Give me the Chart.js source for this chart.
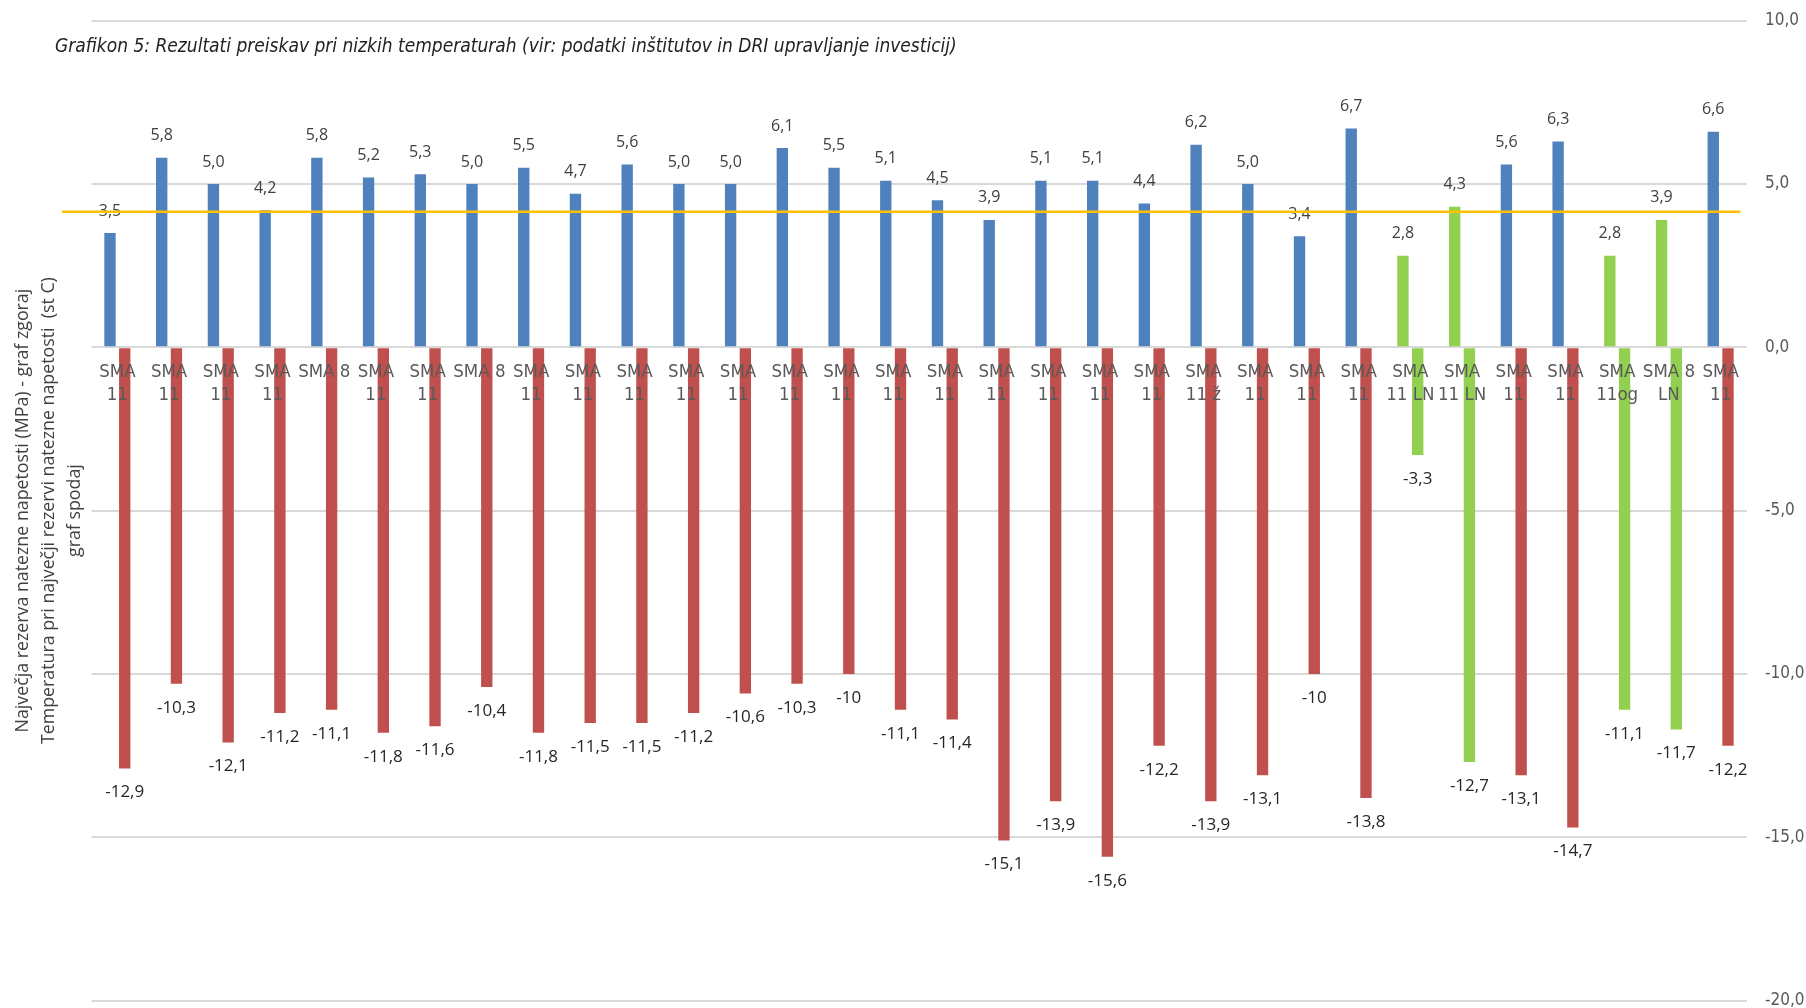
<!DOCTYPE html>
<html>
<head>
<meta charset="utf-8">
<script src="https://cdn.jsdelivr.net/npm/chart.js@4.4.1/dist/chart.umd.min.js"></script>
<style>
  html, body { margin: 0; padding: 0; background: #fff; }
  canvas { display: block; }
</style>
</head>
<body>
<canvas id="myChart" width="1806" height="1008"></canvas>
<script>
// categories (x axis labels, wrapped like in the original)
const categories = [
    ['SMA', '11'], ['SMA', '11'], ['SMA', '11'], ['SMA', '11'], 'SMA 8',
    ['SMA', '11'], ['SMA', '11'], 'SMA 8', ['SMA', '11'], ['SMA', '11'],
    ['SMA', '11'], ['SMA', '11'], ['SMA', '11'], ['SMA', '11'], ['SMA', '11'],
    ['SMA', '11'], ['SMA', '11'], ['SMA', '11'], ['SMA', '11'], ['SMA', '11'],
    ['SMA', '11'], ['SMA', '11 ž'], ['SMA', '11'], ['SMA', '11'], ['SMA', '11'],
    ['SMA', '11 LN'], ['SMA', '11 LN'], ['SMA', '11'], ['SMA', '11'], ['SMA', '11og'],
    ['SMA 8', 'LN'], ['SMA', '11']
];

// največja rezerva natezne napetosti (MPa) - graf zgoraj
const reserveValues = [
    3.5, 5.8, 5.0, 4.2, 5.8, 5.2, 5.3, 5.0, 5.5, 4.7,
    5.6, 5.0, 5.0, 6.1, 5.5, 5.1, 4.5, 3.9, 5.1, 5.1,
    4.4, 6.2, 5.0, 3.4, 6.7, 2.8, 4.3, 5.6, 6.3, 2.8,
    3.9, 6.6
];

// temperatura pri največji rezervi (st C) - graf spodaj
const tempValues = [
    -12.9, -10.3, -12.1, -11.2, -11.1, -11.8, -11.6, -10.4, -11.8, -11.5,
    -11.5, -11.2, -10.6, -10.3, -10, -11.1, -11.4, -15.1, -13.9, -15.6,
    -12.2, -13.9, -13.1, -10, -13.8, -3.3, -12.7, -13.1, -14.7, -11.1,
    -11.7, -12.2
];

// LN / og mixes drawn in green
const greenCats = [25, 26, 29, 30];

// right axis ticks and the yellow limit line
const yTicks = [-20, -15, -10, -5, 0, 5, 10];
const limitValue = 4.15;

const titleText = 'Grafikon 5: Rezultati preiskav pri nizkih temperaturah (vir: podatki inštitutov in DRI upravljanje investicij)';
const axisTitle = [
    'Največja rezerva natezne napetosti (MPa) - graf zgoraj',
    'Temperatura pri največji rezervi natezne napetosti  (st C)',
    'graf spodaj'
];

const narrowFont = '"DejaVu Sans Condensed", "DejaVu Sans", sans-serif';
const sansFont = '"Open Sans", "Noto Sans", sans-serif';

const blueColors = reserveValues.map((v, i) => greenCats.includes(i) ? '#92D050' : '#4F81BD');
const redColors = tempValues.map((v, i) => greenCats.includes(i) ? '#92D050' : '#C0504D');

const comma = s => String(s).replace('.', ',');

// value labels + yellow line
const extrasPlugin = {
    id: 'extras',
    afterDatasetsDraw(chart) {
        const ctx = chart.ctx;
        const area = chart.chartArea;
        ctx.save();
        ctx.textAlign = 'center';
        ctx.textBaseline = 'middle';

        chart.getDatasetMeta(0).data.forEach((bar, i) => {
            ctx.font = '16px ' + sansFont;
            ctx.fillStyle = '#404040';
            ctx.fillText(comma(reserveValues[i].toFixed(1)), bar.x, bar.y - 22);
        });
        chart.getDatasetMeta(1).data.forEach((bar, i) => {
            ctx.font = '17px ' + sansFont;
            ctx.fillStyle = '#262626';
            ctx.fillText(comma(tempValues[i]), bar.x, bar.y + 24);
        });

        // yellow line
        const yl = chart.scales.y.getPixelForValue(limitValue);
        ctx.strokeStyle = '#FFC000';
        ctx.lineWidth = 2.5;
        ctx.beginPath();
        ctx.moveTo(area.left - 29.5, yl);
        ctx.lineTo(area.right - 6, yl);
        ctx.stroke();
        ctx.restore();
    },
    afterDraw(chart) {
        const ctx = chart.ctx;
        ctx.save();
        ctx.font = 'italic 19px ' + narrowFont;
        ctx.fillStyle = '#222222';
        ctx.textAlign = 'left';
        ctx.textBaseline = 'alphabetic';
        ctx.fillText(titleText, 55, 52.3);
        ctx.restore();
    }
};

const ctx = document.getElementById('myChart').getContext('2d');

new Chart(ctx, {
    type: 'bar',
    data: {
        labels: categories,
        datasets: [{
            data: reserveValues,
            backgroundColor: blueColors,
            yAxisID: 'y'
        }, {
            data: tempValues,
            backgroundColor: redColors,
            yAxisID: 'y'
        }]
    },
    options: {
        responsive: false,
        animation: false,
        categoryPercentage: 0.57,
        barPercentage: 0.77,
        layout: {
            padding: { left: 0, right: 0, top: 20.7, bottom: 7.5 }
        },
        scales: {
            x: {
                position: { y: 0 },
                grid: { display: false, drawTicks: false },
                border: { display: false },
                ticks: {
                    z: 1,  // labels go over the bars
                    autoSkip: false,
                    maxRotation: 0,
                    minRotation: 0,
                    padding: 14,
                    color: '#595959',
                    font: { family: narrowFont, size: 18.5, lineHeight: '22.4px' }
                },
                afterFit(s) { s.paddingLeft = 0; s.paddingRight = 0; }
            },
            y: {
                position: 'right',
                min: -20,
                max: 10,
                afterBuildTicks(s) { s.ticks = yTicks.map(v => ({ value: v })); },
                grid: { color: '#D9D9D9', lineWidth: 2, drawTicks: false },
                border: { display: false },
                ticks: {
                    padding: 18.5,
                    color: '#595959',
                    font: { family: narrowFont, size: 17 },
                    callback: v => comma(v.toFixed(1))
                },
                afterFit(s) { s.width = 59.5; s.paddingTop = 0; s.paddingBottom = 0; }
            },
            yLeft: {
                position: 'left',
                grid: { display: false, drawTicks: false },
                border: { display: false },
                ticks: { display: false },
                title: {
                    display: true,
                    text: axisTitle,
                    color: '#404040',
                    padding: { top: 10, bottom: 0 },
                    font: { family: sansFont, size: 17.8, lineHeight: '26px' }
                },
                afterFit(s) { s.width = 91.5; s.paddingTop = 0; s.paddingBottom = 0; }
            }
        },
        plugins: {
            legend: { display: false },
            tooltip: { enabled: false }
        }
    },
    plugins: [extrasPlugin]
});
</script>
</body>
</html>
